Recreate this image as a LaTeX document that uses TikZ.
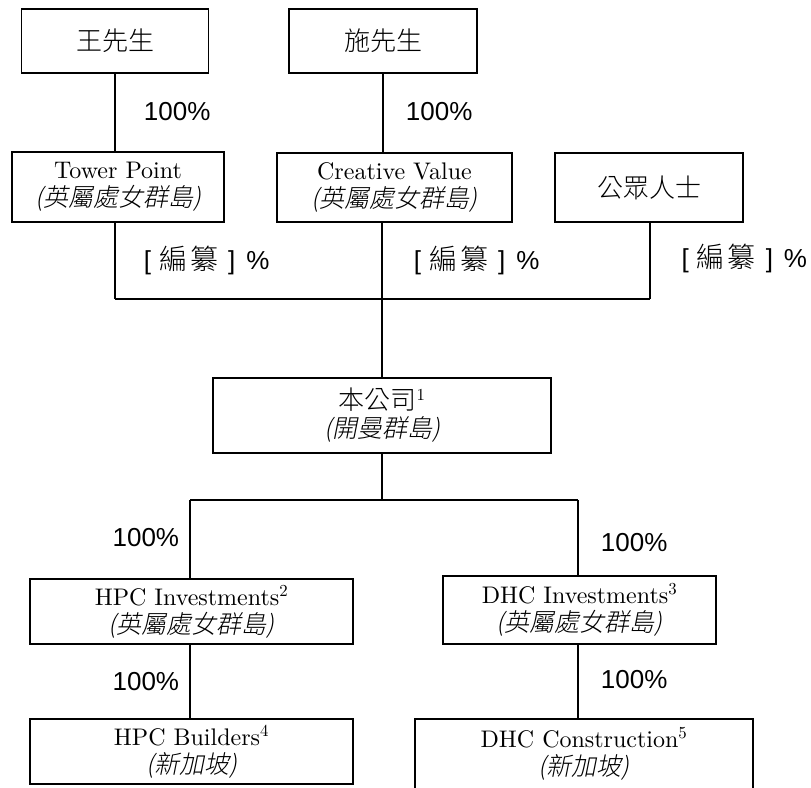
\documentclass[tikz,border=0pt]{standalone}
\usepackage{fontspec}
\setmainfont{lmroman10-regular.otf}
\newfontfamily\cjk{Noto Sans CJK TC Light}
\newfontfamily\cjkit[FakeSlant=0.2]{Noto Sans CJK TC Light}
\newfontfamily\hel{Liberation Sans}
\newcommand{\zh}[1]{{\cjk\fontsize{26}{28}\selectfont #1}}
\newcommand{\zhit}[1]{{\cjkit\fontsize{25}{28}\selectfont (#1)}}
\newcommand{\tbd}{[\hspace{8pt}{\cjk\fontsize{28}{28}\selectfont 編\hspace{3pt}纂}\hspace{10pt}]\hspace{11pt}\%}

\begin{document}
\begin{tikzpicture}[x=1pt,y=-1pt,
    every node/.style={draw,line width=1.8pt,inner sep=0,align=center,font=\fontsize{24}{28}\selectfont},
    pct/.style={draw=none,font=\hel\fontsize{26}{28}\selectfont},
    link/.style={line width=1.8pt},
    heavy/.style={line width=2.4pt}]
        \useasboundingbox (0,0) rectangle (811,787);
        \clip (0,0) rectangle (811,787);
        \node[minimum width=187pt,minimum height=64pt] (1) at (115,41) {\zh{王先生}};
        \node[minimum width=188pt,minimum height=64pt] (2) at (383,41) {\zh{施先生}};
        \node[minimum width=212pt,minimum height=70pt] (3) at (118,187) {Tower Point\\\zhit{英屬處女群島}};
        \node[minimum width=235pt,minimum height=69pt] (4) at (394.5,187.5) {Creative Value\\\zhit{英屬處女群島}};
        \node[minimum width=188pt,minimum height=69pt] (5) at (649,187.5) {\zh{公眾人士}};
        \node[minimum width=338pt,minimum height=75pt] (6) at (382,415.5) {\zh{本公司}\textsuperscript{1}\\\zhit{開曼群島}};
        \node[minimum width=323pt,minimum height=65pt] (7) at (191.5,611.5) {HPC Investments\textsuperscript{2}\\\zhit{英屬處女群島}};
        \node[minimum width=273pt,minimum height=68pt] (8) at (579.5,610) {DHC Investments\textsuperscript{3}\\\zhit{英屬處女群島}};
        \node[minimum width=323pt,minimum height=65pt] (9) at (191.5,751.5) {HPC Builders\textsuperscript{4}\\\zhit{新加坡}};
        \node[minimum width=338pt,minimum height=70pt] (10) at (584,754) {DHC Construction\textsuperscript{5}\\\zhit{新加坡}};
        \coordinate (a) at (115,299);
        \coordinate (b) at (382,299);
        \coordinate (c) at (650,299);
        \coordinate (d) at (190,500);
        \coordinate (e) at (578,500);
        \draw[link] (1) -- (1 |- 3.north) (2) -- (2 |- 4.north);
        \draw[heavy] (a |- 3.south) -- (a) (b |- 4.south) -- (b) (c |- 5.south) -- (c);
        \draw[heavy] (a) -- (c) (b) -- (6);
        \draw[link] (6) -- (6 |- d) (d) -- (e);
        \draw[link] (d) -- (d |- 7.north) (e) -- (e |- 8.north);
        \draw[link] (d |- 7.south) -- (d |- 9.north);
        \draw[heavy] (e |- 8.south) -- (e |- 10.north);
        \node[pct,anchor=west] (p1) at (143,112) {100\%};
        \node[pct,anchor=west] (p2) at (405,112) {100\%};
        \node[pct,anchor=west] (p3) at (143,260) {\tbd};
        \node[pct,anchor=west] (p4) at (413,260) {\tbd};
        \node[pct,anchor=east] (p5) at (808,258) {\tbd};
        \node[pct,anchor=east] (p6) at (180,538) {100\%};
        \node[pct,anchor=west] (p7) at (600,543) {100\%};
        \node[pct,anchor=east] (p8) at (180,682) {100\%};
        \node[pct,anchor=west] (p9) at (600,680) {100\%};
      \end{tikzpicture}
\end{document}
